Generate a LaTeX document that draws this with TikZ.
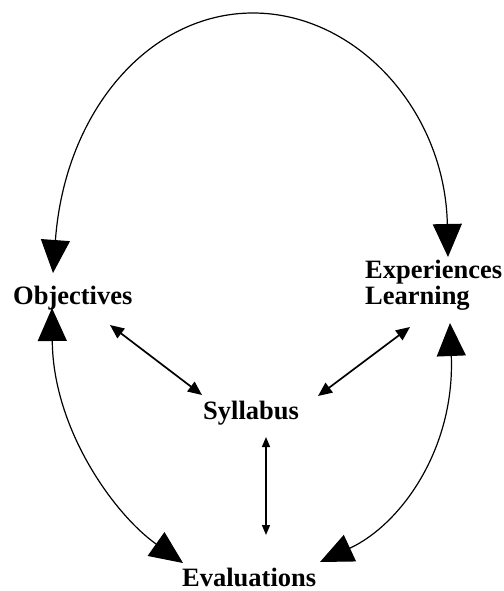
\documentclass[tikz,border=0pt]{standalone}
\usepackage{fontspec}
\setmainfont{Liberation Serif}
\usetikzlibrary{arrows.meta}
\begin{document}
\begin{tikzpicture}[x=1pt,y=-1pt,
  label/.style={font=\bfseries\fontsize{26.5}{27}\selectfont, inner sep=0pt, anchor=base west},
  cycle/.style={line width=1.2pt, {Triangle[length=33pt,width=29pt]}-{Triangle[length=33pt,width=29pt]}},
  link/.style={line width=1.7pt, {Triangle[length=14pt,width=12pt]}-{Triangle[length=14pt,width=12pt]}},
  vlink/.style={line width=1.4pt, {Triangle[length=10pt,width=8pt]}-{Triangle[length=10pt,width=8pt]}}]
  \useasboundingbox (0,0) rectangle (503,591);

  % labels
  \node[label] (obj) at (13,304) {Objectives};
  \node[label] (exp) at (365,278) {Experiences};
  \node[label] (lrn) at (365,304) {Learning};
  \node[label] (syl) at (203,419) {Syllabus};
  \node[label] (eva) at (182,586) {Evaluations};

  % arrow tips of the outer cycle
  \coordinate (objTop) at (53,273);
  \coordinate (objBot) at (52,308);
  \coordinate (lrnTop) at (448,257);
  \coordinate (lrnBot) at (450,323);
  \coordinate (evaL) at (183,563);
  \coordinate (evaR) at (320,562);

  % ends of the syllabus links
  \coordinate (objS) at (110,325);
  \coordinate (sylL) at (202,395);
  \coordinate (lrnS) at (410,327);
  \coordinate (sylR) at (318,396);
  \coordinate (sylB) at (266,437);
  \coordinate (evaT) at (266,535);

  % outer cycle
  \draw[cycle] (objTop) .. controls (65,110) and (150,13) .. (253,13)
               .. controls (356,13) and (445,110) .. (lrnTop);
  \draw[cycle] (objBot) .. controls (53,430) and (115,515) .. (evaL);
  \draw[cycle] (lrnBot) .. controls (455,450) and (400,525) .. (evaR);

  % links to the syllabus
  \draw[link] (objS) -- (sylL);
  \draw[link] (lrnS) -- (sylR);
  \draw[vlink] (sylB) -- (evaT);
\end{tikzpicture}
\end{document}
